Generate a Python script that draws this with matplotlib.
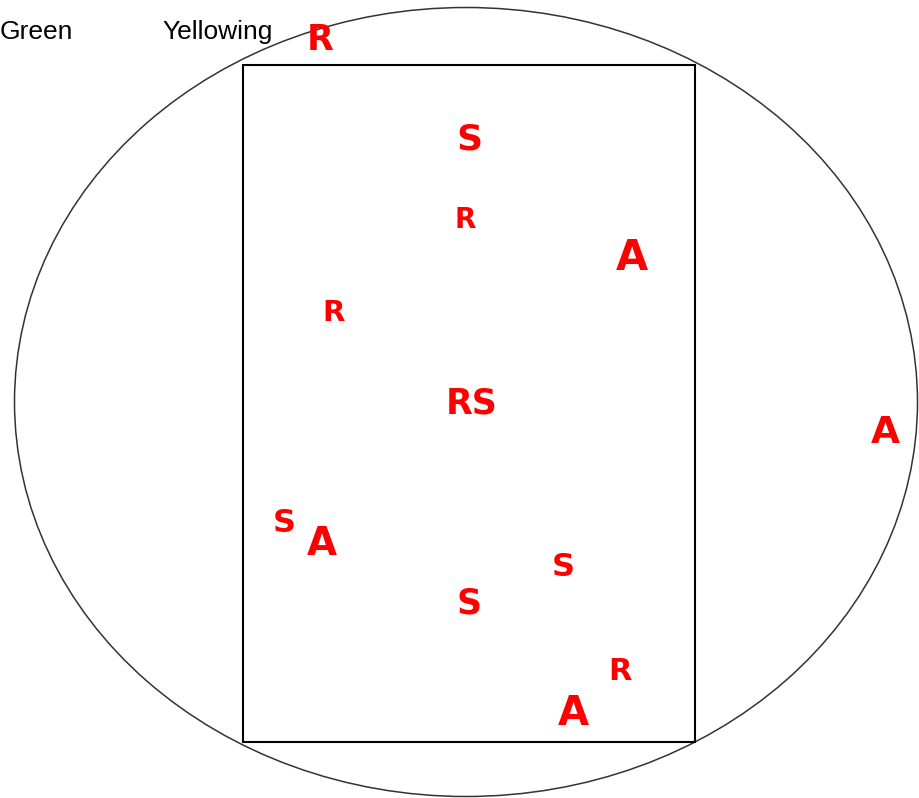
import matplotlib.pyplot as plt
from matplotlib.patches import Ellipse, Rectangle

# outer field (ellipse) and inner plot (rectangle), in pixel units
field_center = (466, 402)
field_size = (903, 789)
plot_box = (243, 65, 452, 677)  # x, y, width, height

# scored letters
letters = ['R', 'S', 'R', 'A', 'R', 'RS', 'A', 'S', 'A', 'S', 'S', 'R', 'A']
letter_x = [320, 469, 465, 632, 334, 472, 885, 284, 322, 563, 469, 620, 573]
letter_y = [40, 140, 220, 258, 313, 404, 433, 524, 544, 568, 604, 671, 714]
letter_size = [25, 26, 20, 30, 21, 25, 27, 23, 28, 23, 25, 22, 29]

# header labels
header_labels = ['Green', 'Yellowing']
header_x = [0, 162]
header_y = [32, 32]

fig = plt.figure(figsize=(9.19, 7.98), dpi=100)
ax = fig.add_axes([0, 0, 1, 1])
ax.set_xlim(0, 919)
ax.set_ylim(798, 0)
ax.axis('off')

ax.add_patch(Ellipse(field_center, field_size[0], field_size[1],
                     fill=False, edgecolor='#333333', linewidth=1.1))
ax.add_patch(Rectangle(plot_box[:2], plot_box[2], plot_box[3],
                       fill=False, edgecolor='black', linewidth=1.5))

for lab, x, y in zip(header_labels, header_x, header_y):
    ax.text(x, y, lab, fontsize=19, family='Liberation Sans',
            ha='left', va='center', color='black')

for lab, x, y, s in zip(letters, letter_x, letter_y, letter_size):
    ax.text(x, y, lab, fontsize=s, fontweight='bold', color='#ff0000',
            ha='center', va='center', family='DejaVu Sans')

fig.savefig('out.png', dpi=100)
